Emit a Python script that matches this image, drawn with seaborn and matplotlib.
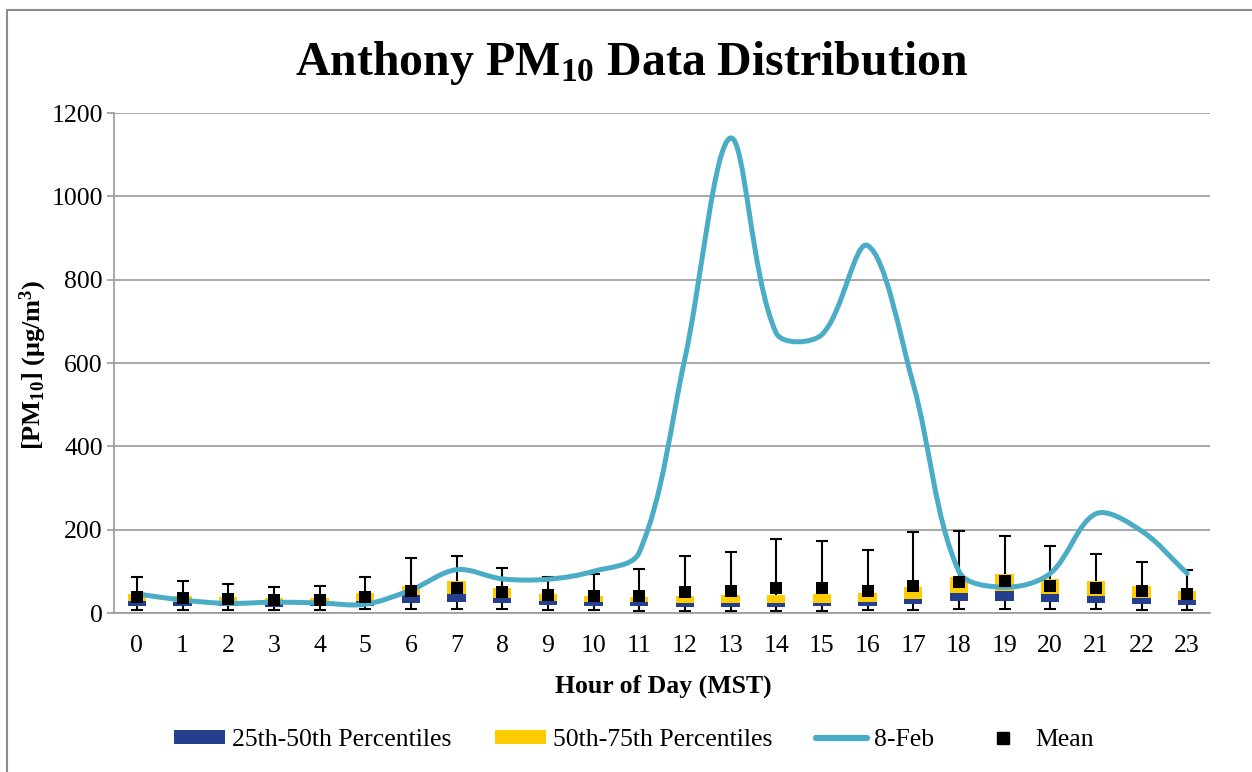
import numpy as np
import pandas as pd
import matplotlib
matplotlib.use("Agg")
import matplotlib.pyplot as plt
import seaborn as sns
from matplotlib.path import Path
from matplotlib.patches import PathPatch, Patch, Rectangle
from matplotlib.lines import Line2D

# ---------------- data ----------------
hours = list(range(24))
p25 = [18, 18, 16, 15, 16, 18, 25, 27, 23, 19, 18, 16, 14, 14, 14, 16, 16, 21, 28, 28, 26, 24, 21, 20]
p50 = [28, 26, 25, 24, 24, 28, 43, 46, 37, 30, 27, 26, 25, 23, 23, 25, 26, 34, 47, 53, 46, 41, 36, 31]
p75 = [45, 40, 38, 36, 35, 49, 66, 76, 60, 46, 42, 39, 41, 43, 44, 46, 47, 62, 86, 94, 82, 76, 66, 53]
mean = [38, 35, 33, 31, 31, 38, 53, 59, 51, 43, 40, 42, 50, 54, 59, 59, 54, 65, 74, 77, 66, 59, 52, 45]
wmin = [8, 7, 8, 8, 8, 9, 10, 10, 10, 7, 7, 6, 5, 5, 5, 5, 7, 8, 10, 10, 10, 10, 7, 7]
wmax = [87, 77, 70, 62, 65, 86, 131, 138, 109, 87, 94, 105, 136, 146, 178, 172, 152, 194, 198, 185, 160, 141, 122, 103]
feb8 = [46, 31, 23, 26, 24, 21, 55, 104, 82, 81, 100, 145, 610, 1140, 672, 668, 882, 550, 100, 62, 95, 238, 197, 95]
yticks = [0, 200, 400, 600, 800, 1000, 1200]

BLUE = "#243F8E"
YELLOW = "#FFCC00"
LINE = "#4BACC6"
GRID = "#9A9A9A"

sns.set_theme(style="white")
plt.rcParams["font.family"] = ["Liberation Serif", "DejaVu Serif"]
plt.rcParams["mathtext.fontset"] = "custom"
plt.rcParams["mathtext.rm"] = "Liberation Serif"
plt.rcParams["mathtext.bf"] = "Liberation Serif:bold"
plt.rcParams["mathtext.it"] = "Liberation Serif:italic"
for k in ["text.color", "axes.labelcolor", "xtick.color", "ytick.color"]:
    plt.rcParams[k] = "black"

W, H = 1252, 772
fig = plt.figure(figsize=(W / 100, H / 100), dpi=100)
ax = fig.add_axes([114 / W, 1 - 613 / H, (1210 - 114) / W, 500 / H])

df = pd.DataFrame({"hour": hours, "p25": p25, "p50": p50, "p75": p75,
                   "mean": mean, "wmin": wmin, "wmax": wmax, "feb8": feb8})

x = np.array(hours, dtype=float)
lo = np.array(p25, float); md = np.array(p50, float); hi = np.array(p75, float)
mn = np.array(wmin, float); mx = np.array(wmax, float)

ax.set_xlim(-0.5, 23.5)
ax.set_ylim(0, 1200)

# whiskers
ax.errorbar(x, md, yerr=[md - mn, mx - md], fmt="none", ecolor="black",
            elinewidth=1.5, capsize=4.5, capthick=1.5, zorder=2)
# boxes
ax.bar(x, md - lo, bottom=lo, width=0.4, color=BLUE, zorder=3, linewidth=0)
ax.bar(x, hi - md, bottom=md, width=0.4, color=YELLOW, zorder=3, linewidth=0)

# smoothed 8-Feb line: Bezier through data points, tangents weighted by
# on-screen chord lengths (Excel-style smoothing)
yv = np.array(feb8, float)
n = len(x)
pts = np.column_stack([x, yv])
scr = ax.transData.transform(pts)
def dist(i, j):
    return float(np.hypot(*(scr[j] - scr[i])))
verts = [tuple(pts[0])]
codes = [Path.MOVETO]
for i in range(n - 1):
    i0, i1, i2, i3 = max(i - 1, 0), i, i + 1, min(i + 2, n - 1)
    d01, d12, d23 = dist(i0, i1), dist(i1, i2), dist(i2, i3)
    w1 = d12 / (d01 + d12) / 3 if (d01 + d12) > 0 else 0
    w2 = d12 / (d12 + d23) / 3 if (d12 + d23) > 0 else 0
    c1 = pts[i1] + (pts[i2] - pts[i0]) * w1
    c2 = pts[i2] - (pts[i3] - pts[i1]) * w2
    verts += [tuple(c1), tuple(c2), tuple(pts[i2])]
    codes += [Path.CURVE4] * 3
ax.add_patch(PathPatch(Path(verts, codes), facecolor="none", edgecolor=LINE,
                       linewidth=3.6, capstyle="round", joinstyle="round", zorder=4))

# means
sns.scatterplot(data=df, x="hour", y="mean", marker="s", s=72, color="black",
                edgecolor="black", linewidth=0, zorder=5, ax=ax, legend=False)

# axes styling
ax.set_xlim(-0.5, 23.5)
ax.set_ylim(0, 1200)
ax.set_yticks(yticks)
ax.set_yticklabels([str(v) for v in yticks], fontsize=18.5)
ax.set_xticks(x)
ax.set_xticklabels([str(h) for h in hours], fontsize=18.5)
ax.set_xticks(np.arange(-0.5, 24, 1), minor=True)
ax.tick_params(axis="x", which="major", length=0, pad=16, labelcolor="black")
ax.tick_params(axis="x", which="minor", length=6, width=1.2, color=GRID, direction="out")
ax.tick_params(axis="y", which="major", length=5, width=1.2, color=GRID, pad=3,
               direction="out", left=True, labelcolor="black")
ax.grid(axis="y", color=GRID, linewidth=1.2, zorder=0)
ax.set_axisbelow(True)
for s in ["top", "right"]:
    ax.spines[s].set_visible(False)
for s in ["left", "bottom"]:
    ax.spines[s].set_color(GRID)
    ax.spines[s].set_linewidth(1.2)
ax.set_xlabel("")
ax.set_ylabel("")

fig.text(632 / W, 1 - 63 / H, r"Anthony PM$_{\mathbf{10}}$ Data Distribution",
         ha="center", va="center", fontsize=34.5, fontweight="bold", color="black")
fig.text(663 / W, 1 - 686 / H, "Hour of Day (MST)", ha="center", va="center",
         fontsize=18.5, fontweight="bold", color="black")
fig.text(33 / W, 1 - 365 / H, r"[PM$_{\mathbf{10}}$] (μg/m$^{\mathbf{3}}$)", ha="center",
         va="center", rotation=90, fontsize=19, fontweight="bold", color="black")

handles = [Patch(facecolor=BLUE, edgecolor="none"),
           Patch(facecolor=YELLOW, edgecolor="none"),
           Line2D([0], [0], color=LINE, linewidth=4.5, solid_capstyle="round"),
           Line2D([0], [0], color="black", marker="s", linestyle="none", markersize=8)]
labels = ["25th-50th Percentiles", "50th-75th Percentiles", "8-Feb", "Mean"]
fig.legend(handles, labels, loc="center", bbox_to_anchor=(634 / W, 1 - 740 / H),
           ncol=4, frameon=False, fontsize=18.5, handlelength=2.0, handleheight=0.5,
           handletextpad=0.25, columnspacing=1.7, labelcolor="black")

fig.patches.append(Rectangle((7 / W, -0.1), 2, 1.1 - 10 / H, transform=fig.transFigure,
                             fill=False, edgecolor="#8C8C8C", linewidth=1.5))

fig.savefig("out.png", dpi=100)
